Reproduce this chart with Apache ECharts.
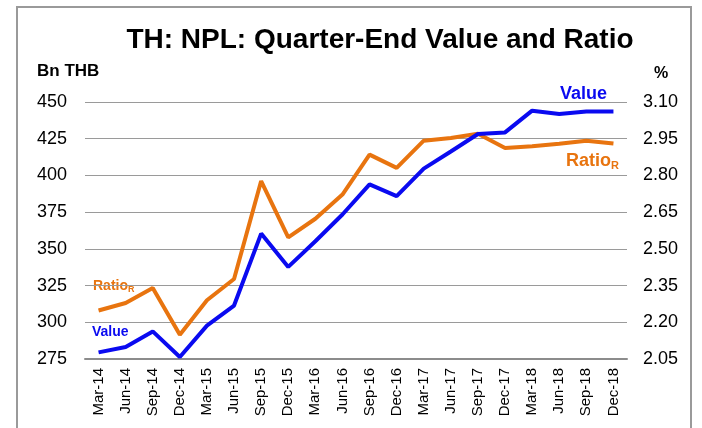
<!DOCTYPE html>
<html>
<head>
<meta charset="utf-8">
<script src="https://cdn.jsdelivr.net/npm/echarts@6/dist/echarts.min.js"></script>
<style>
  html, body { margin: 0; padding: 0; background: #fff; }
  #chart { width: 702px; height: 428px; }
</style>
</head>
<body>
<div id="chart"></div>
<script>
const quarters = ["Mar-14", "Jun-14", "Sep-14", "Dec-14", "Mar-15", "Jun-15", "Sep-15", "Dec-15", "Mar-16", "Jun-16",
  "Sep-16", "Dec-16", "Mar-17", "Jun-17", "Sep-17", "Dec-17", "Mar-18", "Jun-18", "Sep-18", "Dec-18"];
// NPL value, Bn THB (left axis)
const nplValue = [279.5, 283.2, 293.8, 276.4, 297.7, 311.4, 360.4, 337.7, 355.2, 373.4,
  393.9, 385.9, 404.6, 416.3, 428.2, 429.3, 444.1, 441.8, 443.6, 443.6];
// NPL ratio, % (right axis)
const nplRatio = [2.248, 2.279, 2.340, 2.149, 2.290, 2.377, 2.777, 2.547, 2.623, 2.722,
  2.885, 2.831, 2.942, 2.953, 2.970, 2.912, 2.919, 2.929, 2.942, 2.930];
const leftAxis = { min: 275, max: 450, interval: 25 };
const rightAxis = { min: 2.05, max: 3.10 };

const BLUE = "#0a0af0";
const ORANGE = "#e8740f";
const FONT = "Liberation Sans, Arial, sans-serif";

const chart = echarts.init(document.getElementById("chart"));
chart.setOption({
  animation: false,
  textStyle: { fontFamily: FONT },
  title: {
    text: "TH: NPL: Quarter-End Value and Ratio",
    left: 375, top: 21, textAlign: "center",
    textStyle: { fontSize: 28, fontWeight: "bold", color: "#000", fontFamily: FONT }
  },
  grid: { left: 85, right: 75, top: 102, bottom: 69 },
  xAxis: {
    type: "category",
    data: quarters,
    axisLine: { lineStyle: { color: "#8c8c8c", width: 2 } },
    axisTick: { show: false },
    axisLabel: { rotate: 90, margin: 9, fontSize: 15, color: "#000", fontFamily: FONT, interval: 0 }
  },
  yAxis: [{
    type: "value", ...leftAxis,
    axisLine: { show: false }, axisTick: { show: false },
    splitLine: { lineStyle: { color: "#9a9a9a", width: 1 } },
    axisLabel: { margin: 18, fontSize: 18, color: "#000", fontFamily: FONT }
  }, {
    type: "value", ...rightAxis, alignTicks: true,
    axisLine: { show: false }, axisTick: { show: false },
    splitLine: { show: false },
    axisLabel: { margin: 16, fontSize: 18, color: "#000", fontFamily: FONT, formatter: (v) => v.toFixed(2) }
  }],
  series: [{
    name: "Ratio", type: "line", yAxisIndex: 1, data: nplRatio,
    symbol: "none", lineStyle: { color: ORANGE, width: 4 }, z: 2
  }, {
    name: "Value", type: "line", yAxisIndex: 0, data: nplValue,
    symbol: "none", lineStyle: { color: BLUE, width: 4 }, z: 3
  }],
  graphic: [
    { type: "rect", shape: { x: 17, y: 7, width: 674, height: 440 }, style: { fill: "none", stroke: "#9a9a9a", lineWidth: 2 }, silent: true },
    { type: "text", left: 37, top: 63, style: { text: "Bn THB", font: "bold 17px " + FONT, fill: "#000" } },
    { type: "text", left: 654, top: 66, style: { text: "%", font: "bold 16px " + FONT, fill: "#000" } },
    { type: "text", left: 560, top: 85, style: { text: "Value", font: "bold 18px " + FONT, fill: BLUE } },
    { type: "text", left: 566, top: 152, style: { text: "{a|Ratio}{b|R}", rich: {
      a: { font: "bold 18px " + FONT, fill: ORANGE, color: ORANGE },
      b: { font: "bold 11px " + FONT, fill: ORANGE, color: ORANGE, padding: [9, 0, 0, 0] } } } },
    { type: "text", left: 93, top: 279, style: { text: "{a|Ratio}{b|R}", rich: {
      a: { font: "bold 14px " + FONT, fill: ORANGE, color: ORANGE },
      b: { font: "bold 9px " + FONT, fill: ORANGE, color: ORANGE, padding: [7, 0, 0, 0] } } } },
    { type: "text", left: 92, top: 325, style: { text: "Value", font: "bold 14px " + FONT, fill: BLUE } }
  ]
});
</script>
</body>
</html>
